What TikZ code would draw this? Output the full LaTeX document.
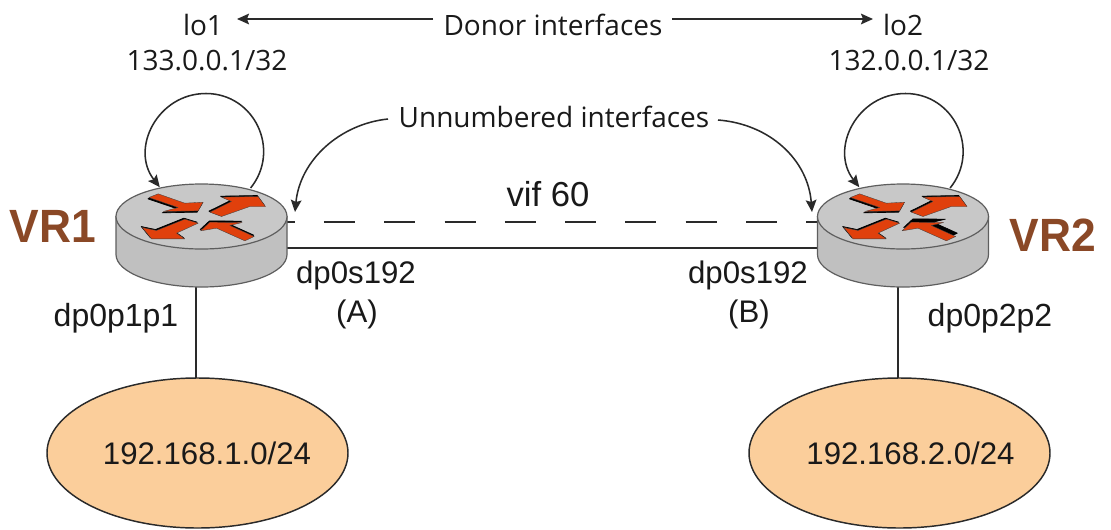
\documentclass[tikz,border=0pt]{standalone}
\usepackage{fontspec}
\setmainfont{Liberation Sans}
\newfontfamily\topfont{Open Sans}
\usetikzlibrary{arrows.meta,shapes.geometric}
\definecolor{wire}{HTML}{2A2A2A}
\definecolor{rim}{HTML}{5E5E5E}
\definecolor{bodygrey}{HTML}{C0C0C0}
\definecolor{topgrey}{HTML}{C8C8C8}
\definecolor{flow}{HTML}{E0400C}
\definecolor{lan}{HTML}{FBCE9B}
\definecolor{vrbrown}{HTML}{8A4826}
\tikzset{
  wireline/.style={draw=wire,line width=1.4pt},
  thin arrow/.style={draw=wire,line width=1.15pt,-{Stealth[length=9pt,width=8pt,inset=1.5pt]}},
  arial/.style={anchor=base,inner sep=0pt,text=black!90,font=\fontsize{23.4}{28}\selectfont},
  arialwide/.style={arial,font=\fontsize{24}{28}\selectfont},
  arialvif/.style={arial,font=\fontsize{26}{30}\selectfont},
  myriad/.style={anchor=base,inner sep=0pt,text=black!90,font=\topfont\fontsize{21}{26}\selectfont},
  vrlabel/.style={anchor=base,inner sep=0pt,text=vrbrown,font=\bfseries\fontsize{35}{40}\selectfont,xscale=.95,transform shape},
  lanshape/.style={ellipse,draw=wire,line width=1.1pt,fill=lan,inner sep=0pt,outer sep=0pt,minimum width=225.75pt,minimum height=112.5pt},
  flowarrow/.style={fill=flow,draw=black!75,line width=.25pt,line join=round},
  flowshadow/.style={fill=black,draw=black,line width=.5pt,line join=round}
}
\newcommand{\flowpoly}[3]{%
  \path[flowshadow,shift={(#1,#2)}] #3;
  \path[flowarrow] #3;%
}
\newcommand{\routerbody}[4]{%
  \begin{scope}[shift={(#1,#2)}]
    \path[fill=bodygrey,draw=rim,line width=.9pt]
      (-85.5,0) -- (-85.5,38) .. controls (-85.5,56) and (-47.2,70.5) .. (0,70.5)
      .. controls (47.2,70.5) and (85.5,56) .. (85.5,38) -- (85.5,0) -- cycle;
    \path[fill=topgrey,draw=rim,line width=.9pt] (0,0) ellipse (85.5 and 32.5);
    \begin{scope}[x=.25pt,y=-.25pt,shift={(-335,-380)}]
      \flowpoly{-3}{4}{(177,323) -- (205,312) -- (285,340) -- (340,337) -- (325,363) -- (220,365) -- (265,353) -- cycle}
      \flowpoly{-3}{-3}{(360,367) -- (425,335) -- (395,322) -- (505,320) -- (527,350) -- (480,350) -- (395,380) -- cycle}
      \flowpoly{-3}{-3}{(157,413) -- (200,422) -- (285,388) -- (325,400) -- (260,430) -- (285,447) -- (185,447) -- cycle}
      \flowpoly{#3}{#4}{(332,423) -- (360,397) -- (457,398) -- (420,407) -- (493,440) -- (465,453) -- (380,415) -- cycle}
    \end{scope}
  \end{scope}%
}
\newcommand{\loopback}[2]{%
  \coordinate (#2s) at (#1+45.1,188);
  \coordinate (#2t) at (#1+.5,93.5);
  \coordinate (#2e) at (#1-45.7,187.2);
  \draw[thin arrow] (#2s) .. controls (#1+75.7,150.2) and (#1+49.1,93.5) .. (#2t)
    .. controls (#1-48.1,93.5) and (#1-75.6,148.9) .. (#2e);%
}
\begin{document}
\begin{tikzpicture}[x=.75pt,y=-.75pt]
\useasboundingbox[fill=white] (0,0) rectangle (1111,529);
% anchors
\coordinate (r1bottom) at (196,285);
\coordinate (r2bottom) at (898,285);
\coordinate (r1solid) at (287,248.3);
\coordinate (r2solid) at (817,248.3);
\coordinate (r1dash) at (287,222.3);
\coordinate (r2dash) at (817,222.3);
\coordinate (r1point) at (295,212);
\coordinate (r2point) at (812,212);
\coordinate (donorL) at (237,19);
\coordinate (donorLs) at (433,19);
\coordinate (donorR) at (873,19);
\coordinate (donorRs) at (672,19);
\coordinate (unnL) at (388,119);
\coordinate (unnR) at (718,120);
% networks
\node[lanshape] (net1) at (197.5,453) {};
\node[lanshape] (net2) at (899.5,453) {};
% links
\draw[wireline] (r1solid) -- (r2solid);
\draw[wireline,dash pattern=on 23.25pt off 21.97pt,dash phase=17.5pt] (r1dash) -- (r2dash);
\draw[wireline,line width=1.1pt] (r1bottom) -- (r1bottom |- net1.north);
\draw[wireline,line width=1.1pt] (r2bottom) -- (r2bottom |- net2.north);
% routers
\routerbody{201.5}{216.5}{-1}{-4}
\routerbody{903}{216.5}{5}{-10}
\loopback{205.5}{lpa}
\loopback{905}{lpb}
% arrows
\draw[thin arrow] (donorLs) -- (donorL);
\draw[thin arrow] (donorRs) -- (donorR);
\draw[thin arrow] (unnL) .. controls (340,124) and (300,160) .. (r1point);
\draw[thin arrow] (unnR) .. controls (770,124) and (808,160) .. (r2point);
% texts
\node[myriad] (lbllo1) at (203,35) {lo1};
\node[myriad] (lbllo2) at (903,35) {lo2};
\node[myriad] (lbldonor) at (553,35) {Donor interfaces};
\node[myriad] (lblip1) at (207,70) {133.0.0.1/32};
\node[myriad] (lblip2) at (909,70) {132.0.0.1/32};
\node[myriad] (lblunn) at (554,127) {Unnumbered interfaces};
\node[arialvif] (lblvif) at (548,206) {vif 60};
\node[arial] (lbla1) at (356,283) {dp0s192};
\node[arial] (lbla2) at (357,322) {(A)};
\node[arial] (lblb1) at (748,283) {dp0s192};
\node[arial] (lblb2) at (749,322) {(B)};
\node[arialwide] (lblp1) at (116,326) {dp0p1p1};
\node[arialwide] (lblp2) at (990,326) {dp0p2p2};
\node[arial] (lblnet1) at (207,464) {192.168.1.0/24};
\node[arial] (lblnet2) at (910.5,464) {192.168.2.0/24};
\node[vrlabel] (lblvr1) at (53,242) {VR1};
\node[vrlabel] (lblvr2) at (1053,251) {VR2};
\end{tikzpicture}
\end{document}
